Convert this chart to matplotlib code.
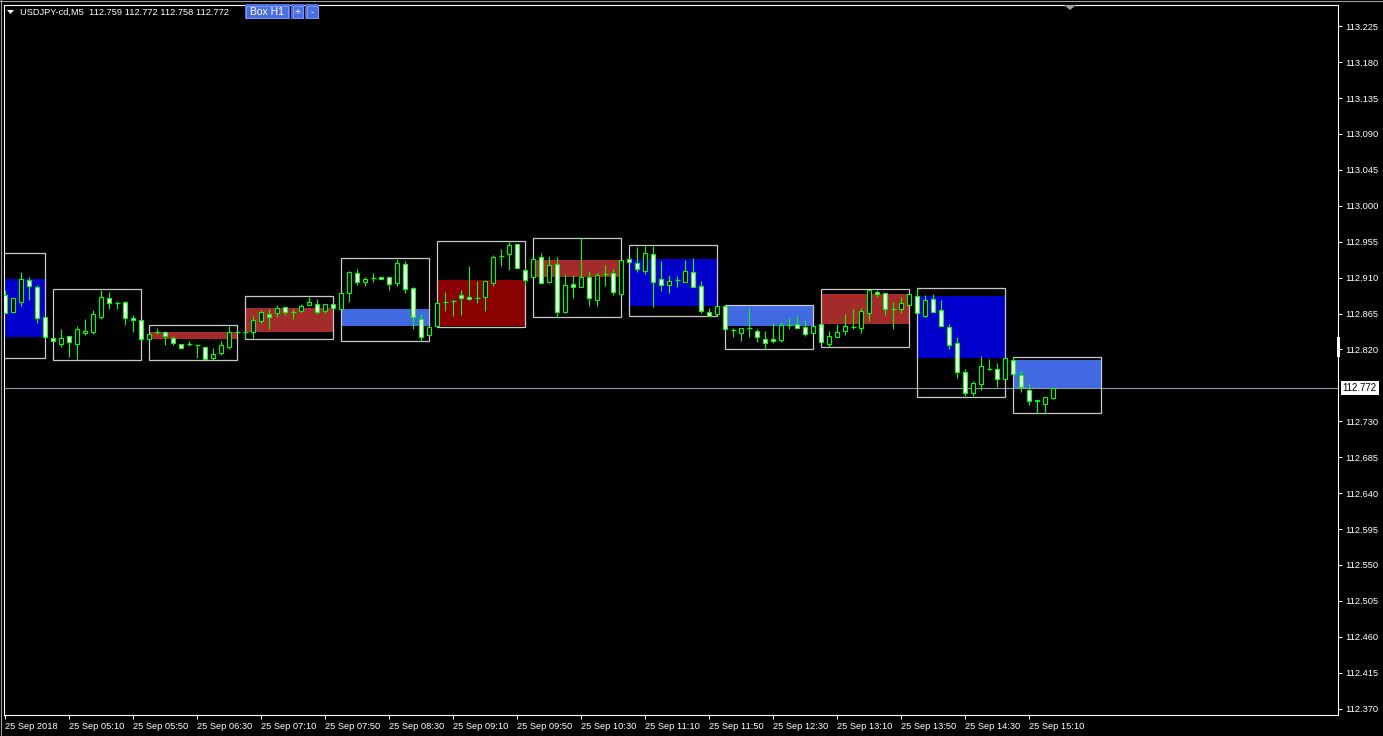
import numpy as np
import matplotlib.pyplot as plt
from matplotlib.patches import Rectangle, Polygon
from matplotlib.lines import Line2D

plt.rcParams.update({"font.family": ["Liberation Sans", "DejaVu Sans"]})
plt.rcParams.update({"font.size": 6.5})

# M5 bars, 25 Sep 2018 04:30 .. 15:25
open_ = [
    112.888, 112.867, 112.879, 112.907, 112.898, 112.861,
    112.834, 112.827, 112.837, 112.827, 112.841, 112.842, 112.861, 112.884, 112.878, 112.879, 112.859, 112.857,
    112.833, 112.842, 112.842, 112.834, 112.827, 112.827, 112.826, 112.823, 112.809, 112.816, 112.823, 112.842,
    112.842, 112.842, 112.856, 112.864, 112.866, 112.873, 112.867, 112.868, 112.876, 112.877, 112.868, 112.877,
    112.871, 112.891, 112.916, 112.905, 112.910, 112.911, 112.911, 112.903, 112.927, 112.897, 112.858, 112.838,
    112.849, 112.879, 112.881, 112.888, 112.886, 112.884, 112.886, 112.903, 112.937, 112.940, 112.952, 112.920,
    112.911, 112.936, 112.905, 112.927, 112.867, 112.902, 112.898, 112.911, 112.882, 112.915, 112.916, 112.889,
    112.933, 112.928, 112.918, 112.940, 112.908, 112.901, 112.907, 112.905, 112.917, 112.899, 112.867, 112.864,
    112.874, 112.844, 112.841, 112.847, 112.843, 112.833, 112.833, 112.832, 112.851, 112.852, 112.848, 112.841,
    112.852, 112.827, 112.836, 112.843, 112.848, 112.847, 112.866, 112.892, 112.891, 112.871, 112.871, 112.876,
    112.887, 112.862, 112.883, 112.869, 112.848, 112.828, 112.792, 112.766, 112.777, 112.795, 112.795, 112.783,
    112.807, 112.788, 112.769, 112.757, 112.752, 112.759,
]
high = [
    112.894, 112.884, 112.917, 112.911, 112.901, 112.861,
    112.834, 112.846, 112.837, 112.849, 112.858, 112.869, 112.894, 112.892, 112.881, 112.881, 112.863, 112.857,
    112.839, 112.847, 112.843, 112.837, 112.827, 112.831, 112.826, 112.823, 112.822, 112.831, 112.849, 112.843,
    112.843, 112.862, 112.869, 112.871, 112.876, 112.873, 112.871, 112.877, 112.886, 112.883, 112.877, 112.877,
    112.891, 112.918, 112.921, 112.911, 112.916, 112.911, 112.911, 112.933, 112.931, 112.898, 112.864, 112.848,
    112.878, 112.892, 112.882, 112.894, 112.925, 112.906, 112.906, 112.938, 112.946, 112.955, 112.952, 112.922,
    112.933, 112.941, 112.937, 112.936, 112.915, 112.913, 112.960, 112.918, 112.916, 112.926, 112.921, 112.932,
    112.933, 112.948, 112.950, 112.950, 112.931, 112.913, 112.912, 112.932, 112.935, 112.906, 112.872, 112.874,
    112.874, 112.847, 112.847, 112.872, 112.846, 112.843, 112.853, 112.854, 112.859, 112.862, 112.857, 112.849,
    112.852, 112.843, 112.852, 112.864, 112.871, 112.872, 112.894, 112.894, 112.891, 112.879, 112.886, 112.889,
    112.896, 112.888, 112.889, 112.882, 112.852, 112.836, 112.795, 112.781, 112.812, 112.808, 112.803, 112.809,
    112.811, 112.793, 112.778, 112.757, 112.761, 112.772,
]
low = [
    112.866, 112.867, 112.874, 112.882, 112.853, 112.836,
    112.831, 112.823, 112.811, 112.807, 112.838, 112.839, 112.858, 112.871, 112.871, 112.851, 112.842, 112.833,
    112.833, 112.839, 112.826, 112.826, 112.822, 112.824, 112.809, 112.808, 112.807, 112.813, 112.821, 112.841,
    112.834, 112.833, 112.853, 112.846, 112.861, 112.863, 112.858, 112.867, 112.876, 112.864, 112.866, 112.872,
    112.871, 112.879, 112.901, 112.899, 112.905, 112.908, 112.894, 112.899, 112.891, 112.846, 112.831, 112.838,
    112.849, 112.868, 112.862, 112.863, 112.882, 112.878, 112.868, 112.899, 112.925, 112.920, 112.922, 112.901,
    112.911, 112.903, 112.903, 112.861, 112.866, 112.884, 112.898, 112.874, 112.874, 112.899, 112.888, 112.889,
    112.930, 112.917, 112.915, 112.873, 112.893, 112.891, 112.898, 112.905, 112.898, 112.866, 112.862, 112.864,
    112.846, 112.836, 112.831, 112.836, 112.829, 112.821, 112.828, 112.829, 112.846, 112.847, 112.837, 112.841,
    112.829, 112.823, 112.836, 112.838, 112.846, 112.841, 112.856, 112.886, 112.863, 112.846, 112.866, 112.876,
    112.866, 112.861, 112.867, 112.849, 112.821, 112.784, 112.762, 112.762, 112.769, 112.794, 112.773, 112.783,
    112.789, 112.767, 112.751, 112.740, 112.740, 112.758,
]
close = [
    112.866, 112.884, 112.908, 112.899, 112.859, 112.836,
    112.831, 112.834, 112.829, 112.846, 112.843, 112.864, 112.886, 112.878, 112.878, 112.859, 112.857, 112.833,
    112.839, 112.842, 112.837, 112.828, 112.822, 112.827, 112.826, 112.808, 112.814, 112.826, 112.842, 112.842,
    112.842, 112.857, 112.867, 112.861, 112.872, 112.867, 112.867, 112.874, 112.879, 112.867, 112.877, 112.872,
    112.891, 112.917, 112.905, 112.908, 112.910, 112.908, 112.902, 112.928, 112.896, 112.861, 112.836, 112.848,
    112.878, 112.879, 112.881, 112.884, 112.883, 112.884, 112.906, 112.936, 112.937, 112.951, 112.922, 112.907,
    112.933, 112.903, 112.926, 112.867, 112.901, 112.898, 112.911, 112.884, 112.913, 112.915, 112.892, 112.932,
    112.930, 112.921, 112.941, 112.905, 112.901, 112.906, 112.907, 112.918, 112.898, 112.868, 112.862, 112.874,
    112.846, 112.844, 112.847, 112.847, 112.836, 112.828, 112.831, 112.851, 112.851, 112.847, 112.839, 112.849,
    112.829, 112.837, 112.842, 112.849, 112.848, 112.868, 112.894, 112.889, 112.871, 112.871, 112.878, 112.889,
    112.866, 112.882, 112.867, 112.849, 112.826, 112.792, 112.765, 112.778, 112.799, 112.795, 112.783, 112.809,
    112.789, 112.773, 112.755, 112.755, 112.761, 112.772,
]

# H1 boxes 04:00 .. 15:00
h1_open = [112.908, 112.833, 112.833, 112.842, 112.871, 112.849, 112.911, 112.933, 112.874, 112.852, 112.887, 112.807]
h1_high = [112.941, 112.896, 112.851, 112.887, 112.935, 112.956, 112.960, 112.951, 112.876, 112.896, 112.897, 112.811]
h1_low = [112.809, 112.807, 112.807, 112.833, 112.831, 112.848, 112.861, 112.862, 112.821, 112.823, 112.761, 112.740]
h1_close = [112.836, 112.833, 112.842, 112.872, 112.849, 112.907, 112.932, 112.874, 112.849, 112.889, 112.809, 112.772]

time_labels = [
    "25 Sep 2018", "25 Sep 05:10", "25 Sep 05:50", "25 Sep 06:30", "25 Sep 07:10",
    "25 Sep 07:50", "25 Sep 08:30", "25 Sep 09:10", "25 Sep 09:50", "25 Sep 10:30",
    "25 Sep 11:10", "25 Sep 11:50", "25 Sep 12:30", "25 Sep 13:10", "25 Sep 13:50",
    "25 Sep 14:30", "25 Sep 15:10",
]
price_ticks = [
    113.225, 113.180, 113.135, 113.090, 113.045, 113.000, 112.955, 112.910, 112.865,
    112.820, 112.730, 112.685, 112.640, 112.595, 112.550, 112.505, 112.460, 112.415, 112.370,
]
last_price = 112.772

GREEN = "#00FF00"
BTN = "#4A6FE3"
W, H = 1383, 736

fig = plt.figure(figsize=(W / 100, H / 100), dpi=100, facecolor="black")
ax = fig.add_axes([4 / W, (H - 715) / H, (1338 - 4) / W, (715 - 5) / H])
ax.set_facecolor("black")

# H1 boxes
for k in range(len(h1_open)):
    o, hh, ll, c = h1_open[k], h1_high[k], h1_low[k], h1_close[k]
    x0 = 12 * k - 6
    big = abs(c - o) >= 0.045
    if c > o:
        fill = "#8B0000" if big else "#A52A2A"
    else:
        fill = "#0000CD" if big else "#4169E1"
    if c != o:
        ax.add_patch(Rectangle((x0, min(o, c)), 11, abs(c - o), facecolor=fill, edgecolor="none", zorder=1))
    ax.add_patch(Rectangle((x0, ll), 11, hh - ll, facecolor="none", edgecolor="#C8C8C8", lw=0.9, zorder=2))

ax.axhline(last_price, color="#8E99A4", lw=0.8, zorder=1.5)

# M5 candles
for i in range(len(open_)):
    o, c = open_[i], close[i]
    ax.vlines(i, low[i], high[i], color=GREEN, lw=0.8, zorder=3)
    if o == c:
        ax.hlines(o, i - 0.33, i + 0.33, color=GREEN, lw=0.9, zorder=4)
    else:
        face = "black" if c > o else "white"
        ax.add_patch(Rectangle((i - 0.25, min(o, c)), 0.5, abs(c - o), facecolor=face,
                               edgecolor=GREEN, lw=0.8, zorder=4))

ax.set_xlim(-0.16, 166.6)
ax.set_ylim(112.362, 113.2516)

ax.set_xticks(range(0, 8 * len(time_labels), 8))
ax.set_xticklabels(time_labels, ha="left")
ax.yaxis.tick_right()
ax.set_yticks(price_ticks)
ax.set_yticklabels([f"{p:.3f}" for p in price_ticks])
ax.tick_params(colors="white", direction="out", length=3, width=0.75, labelsize=6.7, pad=2)
for s in ax.spines.values():
    s.set_color("white")
    s.set_linewidth(0.8)

ax.text(1.0035, last_price, f"{last_price:.3f}", transform=ax.get_yaxis_transform(),
        ha="left", va="center", color="black", fontsize=7,
        bbox=dict(boxstyle="square,pad=0.2", facecolor="white", edgecolor="none"))


def fx(px):
    return px / W


def fy(py):
    return 1 - py / H


# header
fig.add_artist(Polygon([(fx(7), fy(10)), (fx(14), fy(10)), (fx(10.5), fy(14))], closed=True,
                       facecolor="white", edgecolor="none", transform=fig.transFigure))
fig.text(fx(20), fy(12), "USDJPY-cd,M5  112.759 112.772 112.758 112.772", color="white",
         fontsize=6.7, va="center", ha="left")
for bx, bw, label in [(245, 45, "Box H1"), (291, 13, "+"), (305, 14, "-")]:
    fig.add_artist(Rectangle((fx(bx), fy(19)), fx(bw), 15 / H, facecolor=BTN, edgecolor="none",
                             transform=fig.transFigure))
    fig.add_artist(Rectangle((fx(bx + 1.5), fy(17.5)), fx(bw - 3), 12 / H, facecolor="none",
                             edgecolor="#7E98F0", lw=0.7, transform=fig.transFigure))
    fig.text(fx(bx + bw / 2), fy(12), label, color="white", fontsize=7.5, va="center", ha="center")

# chart shift marker and scale marker
fig.add_artist(Polygon([(fx(1064), fy(5)), (fx(1076), fy(5)), (fx(1070), fy(10))], closed=True,
                       facecolor="#A0A0A0", edgecolor="none", transform=fig.transFigure))
fig.add_artist(Rectangle((fx(1337), fy(357)), fx(3), 20 / H, facecolor="white", edgecolor="none",
                         transform=fig.transFigure))

# window border
fig.add_artist(Line2D([0, 1], [fy(0.5), fy(0.5)], color="#A0A0A0", lw=0.8, transform=fig.transFigure))
fig.add_artist(Line2D([fx(0.5), fx(0.5)], [0, 1], color="#A0A0A0", lw=0.8, transform=fig.transFigure))

fig.savefig("out.png", dpi=100, facecolor="black")
